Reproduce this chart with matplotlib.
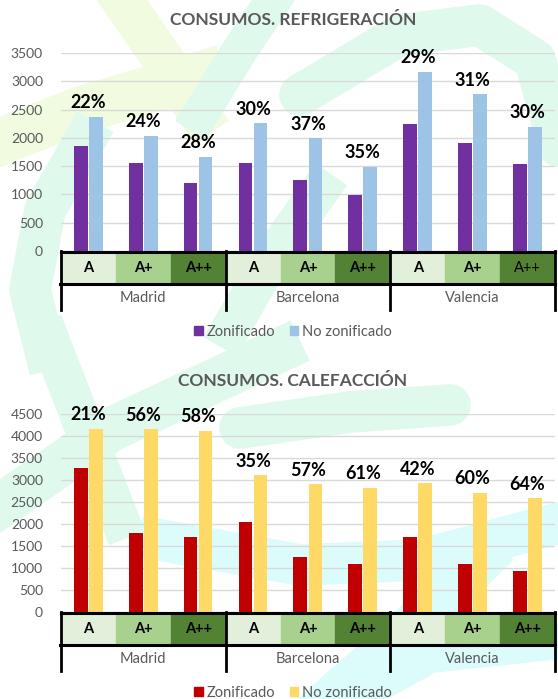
import numpy as np
import matplotlib.pyplot as plt
from matplotlib.patches import Rectangle

plt.rcParams['font.family'] = ['Lato', 'DejaVu Sans']

# data
cities = ['Madrid', 'Barcelona', 'Valencia']
classes = ['A', 'A+', 'A++']

refri_zon = [1863, 1550, 1196, 1561, 1249, 983, 2248, 1905, 1538]
refri_nozon = [2377, 2035, 1662, 2260, 1994, 1490, 3170, 2767, 2200]
refri_pct = ['22%', '24%', '28%', '30%', '37%', '35%', '29%', '31%', '30%']

calef_zon = [3278, 1798, 1707, 2041, 1252, 1093, 1707, 1093, 933]
calef_nozon = [4165, 4150, 4113, 3111, 2898, 2823, 2929, 2709, 2588]
calef_pct = ['21%', '56%', '58%', '35%', '57%', '61%', '42%', '60%', '64%']

W, H = 558, 699
fig = plt.figure(figsize=(W / 100, H / 100), dpi=100)
fig.patch.set_facecolor('white')

# faint background watermark strokes
bg = fig.add_axes([0, 0, 1, 1], zorder=0)
bg.set_xlim(0, W)
bg.set_ylim(H, 0)
bg.axis('off')
lime = '#f1fbe0'
mint = '#dff9ec'
cyan = '#dcfbfb'
bg.plot([-20, 80, 200], [150, 110, 75], color=lime, lw=34)
bg.plot([115, 160, 200], [-10, 55, 115], color=lime, lw=30)
bg.plot([200, 240, 280], [115, 50, -10], color=mint, lw=26)
bg.plot([300, 400, 480, 535, 560], [95, 35, 25, 60, 150], color=mint, lw=30, solid_capstyle='round')
bg.plot([85, 45, 30, 45], [140, 210, 290, 350], color=mint, lw=30)
bg.plot([230, 270, 320], [330, 260, 190], color=mint, lw=28)
bg.plot([50, 85, 120], [340, 430, 520], color=mint, lw=28)
bg.plot([-20, 110, 280], [520, 430, 350], color=mint, lw=32)
bg.plot([240, 350, 450], [428, 412, 405], color=mint, lw=30, solid_capstyle='round')
bg.plot([160, 300, 420, 570], [540, 565, 560, 520], color=cyan, lw=30)
bg.plot([320, 400, 480], [710, 640, 560], color=cyan, lw=34)
bg.plot([330, 430, 570], [710, 655, 640], color=cyan, lw=26)


def draw_chart(top, ymax, zon, nozon, pct, c1, c2, title, last_bold):
    x0, x1 = 61, 555
    y_axis = top + 198
    ax = fig.add_axes([x0 / W, 1 - y_axis / H, (x1 - x0) / W, 198 / H], zorder=2)
    ax.patch.set_alpha(0)
    x = np.arange(len(zon))
    ax.bar(x - 0.14, zon, width=0.25, color=c1, zorder=3)
    ax.bar(x + 0.135, nozon, width=0.25, color=c2, zorder=3)
    for i in range(len(pct)):
        ax.annotate(pct[i], (x[i], nozon[i]), xytext=(0, 4), textcoords='offset points',
                    ha='center', va='bottom', fontsize=13, fontweight='bold', color='black')
    ax.set_xlim(-0.5, len(zon) - 0.5)
    ax.set_ylim(0, ymax)
    ax.set_yticks(np.arange(0, ymax + 1, 500))
    ax.tick_params(axis='y', length=0, pad=13, labelsize=10, labelcolor='#595959')
    ax.set_xticks([])
    ax.grid(axis='y', color='#d9d9d9', lw=1, zorder=0)
    for s in ax.spines.values():
        s.set_visible(False)
    fig.text(293 / W, 1 - (top - 33) / H, title, ha='center', va='center',
             fontsize=12.5, fontweight='bold', color='#595959')

    # category table under the axis
    tb = fig.add_axes([x0 / W, 1 - (y_axis + 60) / H, (x1 - x0) / W, 60 / H], zorder=2)
    tb.set_xlim(-0.5, len(zon) - 0.5)
    tb.set_ylim(60, 0)
    tb.axis('off')
    fills = ['#e2efda', '#a9d18e', '#548235']
    for i in range(len(zon)):
        tb.add_patch(Rectangle((i - 0.5, 0), 1, 33, color=fills[i % 3], zorder=1))
        weight = 'bold'
        if i == len(zon) - 1 and not last_bold:
            weight = 'normal'
        tb.text(i, 17, classes[i % 3], ha='center', va='center', fontsize=10.5,
                fontweight=weight, color='black', zorder=3)
    tb.plot([-0.5, len(zon) - 0.5], [0.5, 0.5], color='black', lw=2.2, zorder=4, clip_on=False)
    tb.plot([-0.52, len(zon) - 0.5], [33, 33], color='black', lw=2.2, zorder=4, clip_on=False)
    for k in range(4):
        xv = -0.5 + 3 * k
        tb.plot([xv, xv], [0, 59], color='black', lw=2, zorder=4, clip_on=False)
    for k in range(3):
        tb.text(3 * k + 1, 47, cities[k], ha='center', va='center', fontsize=10.5, color='#595959')

    handles = [Rectangle((0, 0), 1, 1, color=c1), Rectangle((0, 0), 1, 1, color=c2)]
    fig.legend(handles, ['Zonificado', 'No zonificado'], loc='center',
               bbox_to_anchor=(293 / W, 1 - (y_axis + 81) / H), ncol=2, frameon=False,
               fontsize=10.5, labelcolor='#595959', handlelength=0.6, handleheight=0.6,
               handletextpad=0.25, columnspacing=1.0)


draw_chart(53, 3500, refri_zon, refri_nozon, refri_pct, '#7030a0', '#9dc3e6',
           'CONSUMOS. REFRIGERACIÓN', False)
draw_chart(414, 4500, calef_zon, calef_nozon, calef_pct, '#c00000', '#ffd966',
           'CONSUMOS. CALEFACCIÓN', True)

fig.savefig('out.png', dpi=100)
